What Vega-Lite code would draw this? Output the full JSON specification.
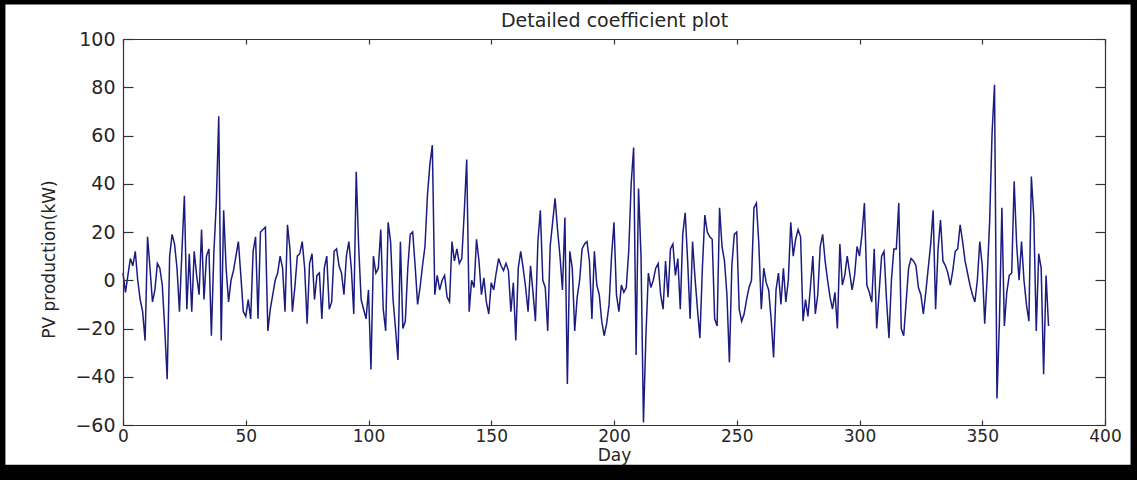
{
  "$schema": "https://vega.github.io/schema/vega-lite/v6.json",
  "width": 982,
  "height": 386,
  "autosize": {"type": "none"},
  "padding": {"left": 123, "top": 39, "right": 32, "bottom": 55},
  "background": "black",
  "config": {
    "view": {"stroke": null},
    "axis": {
      "domainColor": "#333333", "tickColor": "#333333", "domainWidth": 1.2, "tickWidth": 1.2,
      "grid": false,
      "labelFont": "DejaVu Sans", "labelFontSize": 19, "labelColor": "#262626",
      "titleFont": "DejaVu Sans", "titleFontSize": 19, "titleFontWeight": "normal", "titleColor": "#262626",
      "labelFlush": false, "labelOverlap": false
    }
  },
  "layer": [
    {
      "data": {"values": [{}]},
      "mark": {"type": "rect", "color": "white"},
      "encoding": {
        "x": {"datum": -47.9, "type": "quantitative", "scale": {"domain": [0, 400], "nice": false}, "axis": {"orient": "top", "zindex": 1, "tickSize": -5, "values": [0,50,100,150,200,250,300,350,400], "labels": false, "title": "Detailed coefficient plot", "titleFontSize": 19, "titlePadding": 8}},
        "x2": {"datum": 410.4},
        "y": {"datum": -76.5, "type": "quantitative", "scale": {"domain": [-60, 100], "nice": false}, "axis": {"orient": "right", "zindex": 1, "tickSize": -10, "values": [-60,-40,-20,0,20,40,60,80,100], "labels": false, "title": null}},
        "y2": {"datum": 114.3}
      }
    },
    {
      "data": {"values": [
{"day":0,"kw":3},{"day":1,"kw":-5},{"day":2,"kw":2},{"day":3,"kw":9},{"day":4,"kw":6},{"day":5,"kw":12},{"day":6,"kw":0},{"day":7,"kw":-8},{"day":8,"kw":-13},{"day":9,"kw":-25},
{"day":10,"kw":18},{"day":11,"kw":5},{"day":12,"kw":-9},{"day":13,"kw":-4},{"day":14,"kw":7},{"day":15,"kw":5},{"day":16,"kw":-2},{"day":17,"kw":-20},{"day":18,"kw":-41},{"day":19,"kw":10},
{"day":20,"kw":19},{"day":21,"kw":15},{"day":22,"kw":5},{"day":23,"kw":-13},{"day":24,"kw":12},{"day":25,"kw":35},{"day":26,"kw":-12},{"day":27,"kw":11},{"day":28,"kw":-13},{"day":29,"kw":12},
{"day":30,"kw":2},{"day":31,"kw":-6},{"day":32,"kw":21},{"day":33,"kw":-8},{"day":34,"kw":10},{"day":35,"kw":13},{"day":36,"kw":-23},{"day":37,"kw":11},{"day":38,"kw":32},{"day":39,"kw":68},
{"day":40,"kw":-25},{"day":41,"kw":29},{"day":42,"kw":5},{"day":43,"kw":-9},{"day":44,"kw":0},{"day":45,"kw":4},{"day":46,"kw":10},{"day":47,"kw":16},{"day":48,"kw":2},{"day":49,"kw":-13},
{"day":50,"kw":-15},{"day":51,"kw":-8},{"day":52,"kw":-16},{"day":53,"kw":12},{"day":54,"kw":18},{"day":55,"kw":-16},{"day":56,"kw":20},{"day":57,"kw":21},{"day":58,"kw":22},{"day":59,"kw":-21},
{"day":60,"kw":-12},{"day":61,"kw":-6},{"day":62,"kw":0},{"day":63,"kw":3},{"day":64,"kw":10},{"day":65,"kw":5},{"day":66,"kw":-13},{"day":67,"kw":23},{"day":68,"kw":13},{"day":69,"kw":-13},
{"day":70,"kw":-3},{"day":71,"kw":10},{"day":72,"kw":11},{"day":73,"kw":16},{"day":74,"kw":5},{"day":75,"kw":-18},{"day":76,"kw":7},{"day":77,"kw":11},{"day":78,"kw":-8},{"day":79,"kw":2},
{"day":80,"kw":3},{"day":81,"kw":-16},{"day":82,"kw":5},{"day":83,"kw":10},{"day":84,"kw":-12},{"day":85,"kw":-9},{"day":86,"kw":12},{"day":87,"kw":13},{"day":88,"kw":6},{"day":89,"kw":3},
{"day":90,"kw":-6},{"day":91,"kw":10},{"day":92,"kw":16},{"day":93,"kw":5},{"day":94,"kw":-14},{"day":95,"kw":45},{"day":96,"kw":14},{"day":97,"kw":-8},{"day":98,"kw":-12},{"day":99,"kw":-16},
{"day":100,"kw":-4},{"day":101,"kw":-37},{"day":102,"kw":10},{"day":103,"kw":3},{"day":104,"kw":5},{"day":105,"kw":21},{"day":106,"kw":-12},{"day":107,"kw":-21},{"day":108,"kw":24},{"day":109,"kw":16},
{"day":110,"kw":-8},{"day":111,"kw":-20},{"day":112,"kw":-33},{"day":113,"kw":16},{"day":114,"kw":-20},{"day":115,"kw":-17},{"day":116,"kw":5},{"day":117,"kw":19},{"day":118,"kw":20},{"day":119,"kw":6},
{"day":120,"kw":-10},{"day":121,"kw":-3},{"day":122,"kw":6},{"day":123,"kw":14},{"day":124,"kw":35},{"day":125,"kw":48},{"day":126,"kw":56},{"day":127,"kw":-6},{"day":128,"kw":2},{"day":129,"kw":-4},
{"day":130,"kw":0},{"day":131,"kw":2},{"day":132,"kw":-7},{"day":133,"kw":-9},{"day":134,"kw":16},{"day":135,"kw":8},{"day":136,"kw":13},{"day":137,"kw":7},{"day":138,"kw":9},{"day":139,"kw":28},
{"day":140,"kw":50},{"day":141,"kw":-13},{"day":142,"kw":0},{"day":143,"kw":-3},{"day":144,"kw":17},{"day":145,"kw":8},{"day":146,"kw":-6},{"day":147,"kw":1},{"day":148,"kw":-9},{"day":149,"kw":-14},
{"day":150,"kw":-1},{"day":151,"kw":-4},{"day":152,"kw":3},{"day":153,"kw":9},{"day":154,"kw":6},{"day":155,"kw":4},{"day":156,"kw":7},{"day":157,"kw":4},{"day":158,"kw":-13},{"day":159,"kw":-1},
{"day":160,"kw":-25},{"day":161,"kw":5},{"day":162,"kw":12},{"day":163,"kw":5},{"day":164,"kw":-3},{"day":165,"kw":-13},{"day":166,"kw":6},{"day":167,"kw":-5},{"day":168,"kw":-17},{"day":169,"kw":16},
{"day":170,"kw":29},{"day":171,"kw":0},{"day":172,"kw":-3},{"day":173,"kw":-21},{"day":174,"kw":14},{"day":175,"kw":24},{"day":176,"kw":34},{"day":177,"kw":21},{"day":178,"kw":10},{"day":179,"kw":-4},
{"day":180,"kw":26},{"day":181,"kw":-43},{"day":182,"kw":12},{"day":183,"kw":5},{"day":184,"kw":-21},{"day":185,"kw":-7},{"day":186,"kw":0},{"day":187,"kw":13},{"day":188,"kw":15},{"day":189,"kw":16},
{"day":190,"kw":8},{"day":191,"kw":-16},{"day":192,"kw":12},{"day":193,"kw":-2},{"day":194,"kw":-6},{"day":195,"kw":-17},{"day":196,"kw":-23},{"day":197,"kw":-18},{"day":198,"kw":-10},{"day":199,"kw":10},
{"day":200,"kw":24},{"day":201,"kw":-6},{"day":202,"kw":-13},{"day":203,"kw":-2},{"day":204,"kw":-5},{"day":205,"kw":-3},{"day":206,"kw":12},{"day":207,"kw":40},{"day":208,"kw":55},{"day":209,"kw":-31},
{"day":210,"kw":38},{"day":211,"kw":10},{"day":212,"kw":-59},{"day":213,"kw":-23},{"day":214,"kw":3},{"day":215,"kw":-3},{"day":216,"kw":0},{"day":217,"kw":5},{"day":218,"kw":7},{"day":219,"kw":-6},
{"day":220,"kw":-12},{"day":221,"kw":8},{"day":222,"kw":-7},{"day":223,"kw":13},{"day":224,"kw":15},{"day":225,"kw":2},{"day":226,"kw":9},{"day":227,"kw":-12},{"day":228,"kw":19},{"day":229,"kw":28},
{"day":230,"kw":8},{"day":231,"kw":-16},{"day":232,"kw":16},{"day":233,"kw":1},{"day":234,"kw":-12},{"day":235,"kw":-24},{"day":236,"kw":5},{"day":237,"kw":27},{"day":238,"kw":20},{"day":239,"kw":18},
{"day":240,"kw":17},{"day":241,"kw":-16},{"day":242,"kw":-19},{"day":243,"kw":30},{"day":244,"kw":14},{"day":245,"kw":8},{"day":246,"kw":-6},{"day":247,"kw":-34},{"day":248,"kw":6},{"day":249,"kw":19},
{"day":250,"kw":20},{"day":251,"kw":-12},{"day":252,"kw":-17},{"day":253,"kw":-14},{"day":254,"kw":-8},{"day":255,"kw":-3},{"day":256,"kw":0},{"day":257,"kw":30},{"day":258,"kw":32},{"day":259,"kw":15},
{"day":260,"kw":-12},{"day":261,"kw":5},{"day":262,"kw":-1},{"day":263,"kw":-4},{"day":264,"kw":-16},{"day":265,"kw":-32},{"day":266,"kw":-4},{"day":267,"kw":3},{"day":268,"kw":-10},{"day":269,"kw":5},
{"day":270,"kw":-9},{"day":271,"kw":0},{"day":272,"kw":24},{"day":273,"kw":10},{"day":274,"kw":17},{"day":275,"kw":21},{"day":276,"kw":18},{"day":277,"kw":-17},{"day":278,"kw":-8},{"day":279,"kw":-15},
{"day":280,"kw":-3},{"day":281,"kw":10},{"day":282,"kw":-14},{"day":283,"kw":-6},{"day":284,"kw":14},{"day":285,"kw":19},{"day":286,"kw":8},{"day":287,"kw":0},{"day":288,"kw":-7},{"day":289,"kw":-12},
{"day":290,"kw":-5},{"day":291,"kw":-20},{"day":292,"kw":15},{"day":293,"kw":-2},{"day":294,"kw":2},{"day":295,"kw":10},{"day":296,"kw":3},{"day":297,"kw":-4},{"day":298,"kw":2},{"day":299,"kw":14},
{"day":300,"kw":10},{"day":301,"kw":19},{"day":302,"kw":32},{"day":303,"kw":-2},{"day":304,"kw":-5},{"day":305,"kw":-9},{"day":306,"kw":13},{"day":307,"kw":-20},{"day":308,"kw":-5},{"day":309,"kw":10},
{"day":310,"kw":12},{"day":311,"kw":-8},{"day":312,"kw":-24},{"day":313,"kw":0},{"day":314,"kw":13},{"day":315,"kw":13},{"day":316,"kw":32},{"day":317,"kw":-20},{"day":318,"kw":-23},{"day":319,"kw":-9},
{"day":320,"kw":5},{"day":321,"kw":9},{"day":322,"kw":8},{"day":323,"kw":6},{"day":324,"kw":-3},{"day":325,"kw":-6},{"day":326,"kw":-14},{"day":327,"kw":-5},{"day":328,"kw":5},{"day":329,"kw":15},
{"day":330,"kw":29},{"day":331,"kw":-12},{"day":332,"kw":13},{"day":333,"kw":25},{"day":334,"kw":8},{"day":335,"kw":6},{"day":336,"kw":3},{"day":337,"kw":-2},{"day":338,"kw":4},{"day":339,"kw":12},
{"day":340,"kw":13},{"day":341,"kw":23},{"day":342,"kw":16},{"day":343,"kw":8},{"day":344,"kw":3},{"day":345,"kw":-2},{"day":346,"kw":-6},{"day":347,"kw":-9},{"day":348,"kw":0},{"day":349,"kw":16},
{"day":350,"kw":6},{"day":351,"kw":-18},{"day":352,"kw":1},{"day":353,"kw":24},{"day":354,"kw":61},{"day":355,"kw":81},{"day":356,"kw":-49},{"day":357,"kw":-17},{"day":358,"kw":30},{"day":359,"kw":-19},
{"day":360,"kw":-5},{"day":361,"kw":2},{"day":362,"kw":3},{"day":363,"kw":41},{"day":364,"kw":15},{"day":365,"kw":0},{"day":366,"kw":16},{"day":367,"kw":0},{"day":368,"kw":-10},{"day":369,"kw":-17},
{"day":370,"kw":43},{"day":371,"kw":26},{"day":372,"kw":-21},{"day":373,"kw":11},{"day":374,"kw":5},{"day":375,"kw":-39},{"day":376,"kw":2},{"day":377,"kw":-19}
      ]},
      "mark": {"type": "line", "color": "#1c1c80", "strokeWidth": 1.5},
      "encoding": {
        "x": {"field": "day", "type": "quantitative", "scale": {"domain": [0, 400], "nice": false},
              "axis": {"orient": "bottom", "zindex": 1, "tickSize": -5, "values": [0,50,100,150,200,250,300,350,400], "labelFontSize": 17, "labelPadding": 8, "title": "Day", "titleFontSize": 17, "titlePadding": 3}},
        "y": {"field": "kw", "type": "quantitative", "scale": {"domain": [-60, 100], "nice": false},
              "axis": {"orient": "left", "zindex": 1, "tickSize": -10, "values": [-60,-40,-20,0,20,40,60,80,100], "labelPadding": 18, "title": "PV production(kW)", "titleFontSize": 17, "titlePadding": 16, "titleY": 220}}
      }
    }
  ],
  "resolve": {"axis": {"x": "independent", "y": "independent"}}
}
